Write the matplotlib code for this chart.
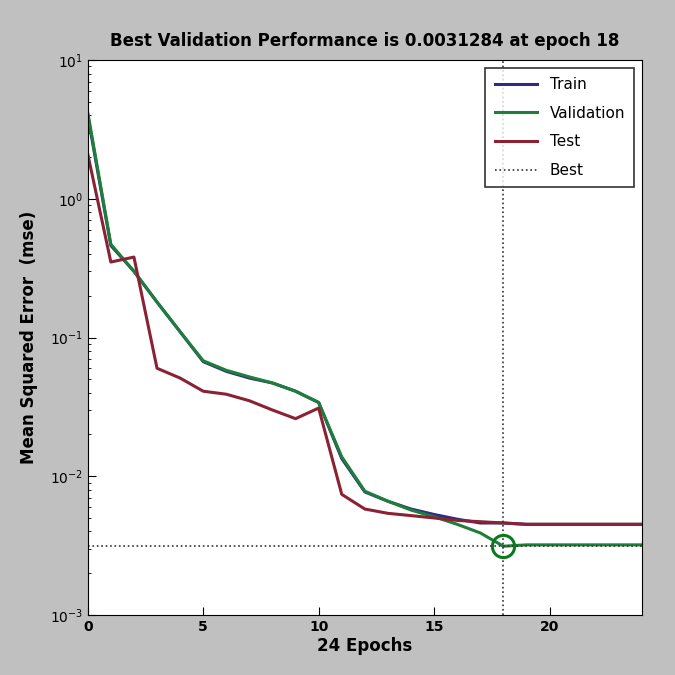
import matplotlib
matplotlib.use("Agg")
import matplotlib.pyplot as plt
import numpy as np

epochs = list(range(25))
train = [4.0, 0.46, 0.30, 0.18, 0.11, 0.067, 0.057, 0.051, 0.047, 0.041, 0.034,
         0.0134, 0.0077, 0.0066, 0.0058, 0.0053, 0.0049, 0.0046, 0.0046, 0.0045,
         0.0045, 0.0045, 0.0045, 0.0045, 0.0045]
validation = [4.2, 0.47, 0.30, 0.18, 0.11, 0.068, 0.058, 0.052, 0.047, 0.041, 0.034,
              0.0138, 0.0078, 0.0066, 0.0057, 0.0051, 0.0045, 0.0039, 0.0031284, 0.0032,
              0.0032, 0.0032, 0.0032, 0.0032, 0.0032]
test = [2.1, 0.35, 0.38, 0.060, 0.051, 0.041, 0.039, 0.035, 0.030, 0.026, 0.031,
        0.0074, 0.0058, 0.0054, 0.0052, 0.0050, 0.0048, 0.0047, 0.0046, 0.0045,
        0.0045, 0.0045, 0.0045, 0.0045, 0.0045]
best_epoch = 18
best_perf = 0.0031284

fig = plt.figure(figsize=(6.75, 6.75), dpi=100, facecolor='#c0c0c0')
ax = fig.add_axes([0.130, 0.089, 0.821, 0.822])
ax.set_facecolor('white')

ax.plot(epochs, train, color='#2c2c86', lw=2.2, label='Train')
ax.plot(epochs, validation, color='#1f7f3a', lw=2.2, label='Validation')
ax.plot(epochs, test, color='#8a2233', lw=2.2, label='Test')
ax.axhline(best_perf, color='#333333', ls=':', lw=1.2, label='Best')
ax.axvline(best_epoch, color='#333333', ls=':', lw=1.2)
ax.plot([best_epoch], [best_perf], 'o', mfc='none', mec='#0a7a20', ms=16, mew=2.2)

ax.set_yscale('log')
ax.set_xlim(0, 24)
ax.set_ylim(1e-3, 1e1)
ax.set_xticks([0, 5, 10, 15, 20])
ax.tick_params(direction='in', which='both', labelsize=10)
ax.tick_params(which='major', length=6)
for lab in ax.get_xticklabels():
    lab.set_fontweight('bold')

ax.set_title('Best Validation Performance is 0.0031284 at epoch 18',
             fontsize=12, fontweight='bold', pad=10)
ax.set_xlabel('24 Epochs', fontsize=12, fontweight='bold', labelpad=2)
ax.set_ylabel('Mean Squared Error  (mse)', fontsize=12, fontweight='bold', labelpad=8)

leg = ax.legend(loc='upper right', fontsize=11, frameon=True, fancybox=False,
                edgecolor='black', handlelength=2.8, borderpad=0.6, labelspacing=0.9)
leg.get_frame().set_linewidth(1.2)

fig.savefig('out.png', dpi=100, facecolor=fig.get_facecolor())
